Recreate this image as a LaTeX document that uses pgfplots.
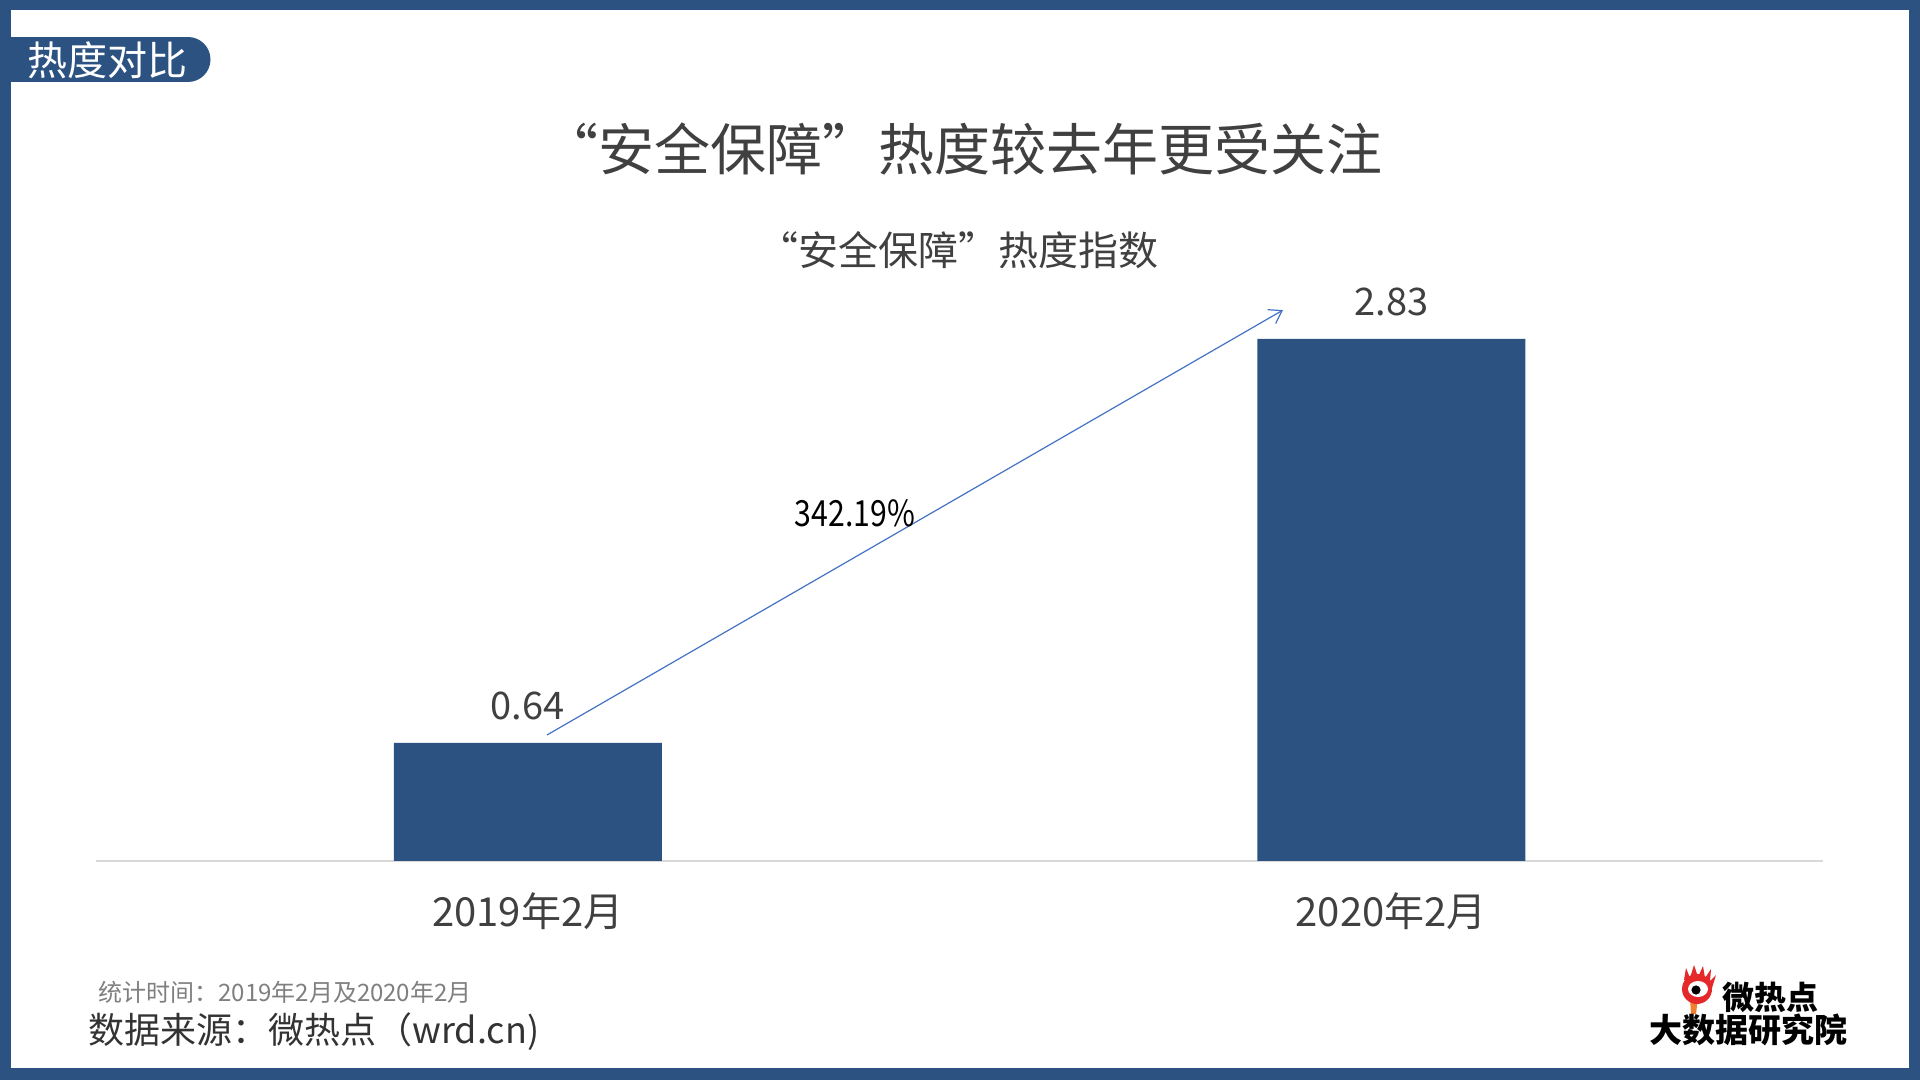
\documentclass[border=0pt]{standalone}
\usepackage{pgfplots}
\pgfplotsset{compat=1.18}
\usepackage{fontspec}
\setmainfont{Noto Sans CJK SC}
\usepackage{graphicx}
\usetikzlibrary{arrows.meta}
\definecolor{frame}{HTML}{2C5282}
\definecolor{barc}{HTML}{2C5282}
\definecolor{txt}{HTML}{404040}
\definecolor{arr}{HTML}{4472C4}
\definecolor{foot}{HTML}{7F7F7F}
\definecolor{src}{HTML}{333333}
\definecolor{logored}{HTML}{E5282A}
\definecolor{logoorange}{HTML}{F08030}

\begin{document}
\begin{tikzpicture}
\fill[frame] (0,0) rectangle (960pt,540pt);
\path[use as bounding box] (0,0) rectangle (960pt,540pt);
\fill[white] (5.5pt,6pt) rectangle (954.5pt,535pt);

\begin{axis}[
  at={(48pt,109.5pt)}, anchor=south west,
  scale only axis, width=863.5pt, height=276.75pt,
  xmin=-0.5, xmax=1.5, ymin=0, ymax=3,
  axis x line=bottom, axis y line=none,
  axis line style={-, draw=gray!30, line width=0.8pt},
  xtick={0,1}, xticklabels={2019年2月,2020年2月},
  major tick length=0pt,
  xticklabel style={font=\fontsize{20pt}{20pt}\selectfont, text=txt, yshift=-12.5pt},
  ytick=\empty,
  clip=false,
  ybar, bar width=134pt,
  point meta=explicit symbolic,
  nodes near coords,
  every node near coord/.append style={font=\fontsize{19pt}{19pt}\selectfont, text=txt, yshift=8pt},
]
\addplot[fill=barc, draw=none] coordinates {(0,0.64) [0.64] (1,2.83) [2.83]};
\draw[arr, line width=0.6pt, -{Straight Barb[length=6pt,width=8pt]}] (axis cs:0.0223,0.683) -- (axis cs:0.8746,2.986);
\end{axis}

\begin{scope}[x=0.5pt,y=-0.5pt,shift={(0,540pt)}]
\fill[frame] (0,37) rectangle (188,82);
\fill[frame] (188,59.5) circle[radius=11.25pt];
\node[white, font=\fontsize{20pt}{20pt}\selectfont] at (107,60) {热度对比};
\node[txt, font=\fontsize{28pt}{28pt}\selectfont] at (962,149) {“安全保障”热度较去年更受关注};
\node[txt, font=\fontsize{20pt}{20pt}\selectfont] at (958,250) {“安全保障”热度指数};
\node[black, font=\fontsize{18pt}{18pt}\selectfont] at (855,513) {\scalebox{0.84}[1]{342.19\%}};
\node[foot, anchor=west, inner sep=0pt, font=\fontsize{12pt}{12pt}\selectfont] at (98,992) {统计时间：2019年2月及2020年2月};
\node[src, anchor=west, inner sep=0pt, font=\fontsize{18pt}{18pt}\selectfont] at (88,1032) {数据来源：微热点（wrd.cn)};
% logo
\fill[logored] (1684,980) -- (1686,968) -- (1690,978) -- (1694,965) -- (1698,977) -- (1703,966) -- (1705,978) -- (1711,969) -- (1710,981) -- (1716,975) -- (1712,988) -- cycle;
\fill[logoorange] (1690,998) -- (1698,998) -- (1696,1014) -- (1691,1014) -- cycle;
\fill[logored] (1697,989) circle[radius=7.5pt];
\fill[white] (1698,989) ellipse[x radius=5pt, y radius=4pt];
\fill[black] (1696,990) circle[radius=2.3pt];
\node[black, font=\fontsize{16pt}{16pt}\selectfont\bfseries] at (1770,997) {微热点};
\node[black, font=\fontsize{16.5pt}{16.5pt}\selectfont\bfseries] at (1748,1030) {大数据研究院};
\end{scope}
\end{tikzpicture}
\end{document}
